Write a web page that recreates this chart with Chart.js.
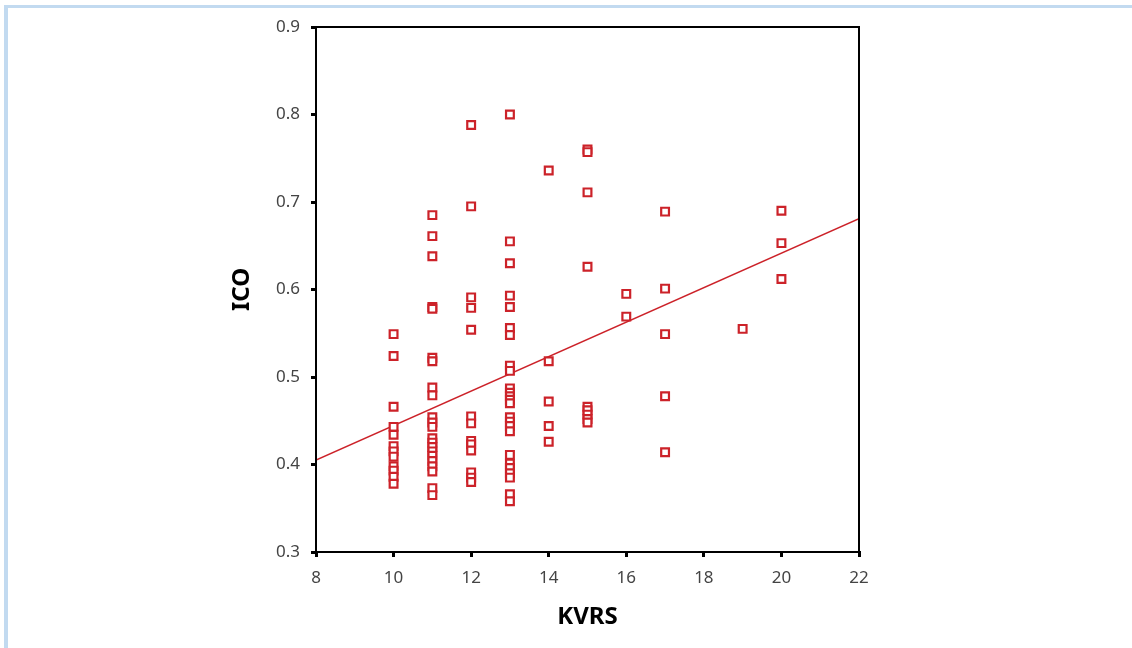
<!DOCTYPE html>
<html>
<head>
<meta charset="utf-8">
<script src="https://cdn.jsdelivr.net/npm/chart.js@4/dist/chart.umd.min.js"></script>
<style>
  html, body { margin: 0; padding: 0; background: #fff; overflow: hidden; }
  #frame { position: absolute; left: 4px; top: 5px; width: 1200px; height: 700px;
           border-left: 4px solid #c2daf0; border-top: 3px solid #c2daf0; }
  #wrap { position: absolute; left: 0; top: 0; width: 1132px; height: 648px; }
</style>
</head>
<body>
<div id="frame"></div>
<div id="wrap"><canvas id="scatter"></canvas></div>
<script>
// ICO vs KVRS scatter with fit line
// ------------------------------
const xTicks = [8, 10, 12, 14, 16, 18, 20, 22];
const yTicks = [0.3, 0.4, 0.5, 0.6, 0.7, 0.8, 0.9];

const ico10 = [0.549, 0.524, 0.466, 0.443, 0.434, 0.421, 0.415, 0.409, 0.398, 0.393, 0.386, 0.378];
const ico11 = [0.685, 0.661, 0.638, 0.580, 0.578, 0.522, 0.518, 0.488, 0.479, 0.454, 0.448, 0.443,
               0.430, 0.425, 0.420, 0.415, 0.410, 0.404, 0.398, 0.392, 0.373, 0.365];
const ico12 = [0.788, 0.695, 0.591, 0.579, 0.554, 0.455, 0.447, 0.427, 0.423, 0.416, 0.391, 0.385, 0.380];
const ico13 = [0.800, 0.655, 0.630, 0.593, 0.580, 0.556, 0.548, 0.513, 0.507, 0.487, 0.482, 0.478,
               0.474, 0.470, 0.454, 0.449, 0.444, 0.438, 0.411, 0.401, 0.396, 0.390, 0.385, 0.366, 0.358];
const ico14 = [0.736, 0.518, 0.472, 0.444, 0.426];
const ico15 = [0.760, 0.757, 0.711, 0.626, 0.466, 0.462, 0.457, 0.452, 0.448];
const ico16 = [0.595, 0.569];
const ico17 = [0.689, 0.601, 0.549, 0.478, 0.414];
const ico19 = [0.555];
const ico20 = [0.690, 0.653, 0.612];

const kvrsGroups = [10, 11, 12, 13, 14, 15, 16, 17, 19, 20];
const icoGroups = [ico10, ico11, ico12, ico13, ico14, ico15, ico16, ico17, ico19, ico20];

// fit line end points
const fitX = [8, 22];
const fitY = [0.405, 0.681];

var points = [];
kvrsGroups.forEach(function (k, i) {
    icoGroups[i].forEach(function (v) { points.push({ x: k, y: v }); });
});
var fitPoints = fitX.map(function (x, i) { return { x: x, y: fitY[i] }; });

const red = '#cc2229';
const tickFont = { family: '"Noto Sans", "Open Sans", sans-serif', size: 17 };
const titleFont = { family: '"Noto Sans", "Open Sans", sans-serif', size: 24, weight: 'bold' };

// frame around the plot area
const boxPlugin = {
    id: 'box',
    afterDraw: function (chart) {
        var a = chart.chartArea, c = chart.ctx;
        c.save();
        c.strokeStyle = '#000';
        c.lineWidth = 2;
        c.strokeRect(a.left, a.top, a.right - a.left, a.bottom - a.top);
        c.restore();
    }
};

var ctx = document.getElementById('scatter');
new Chart(ctx, {
    type: 'scatter',
    data: {
        datasets: [{
            label: 'ICO',
            data: points,
            pointStyle: 'rect',
            pointRadius: 5.5,
            pointHoverRadius: 5.5,
            borderWidth: 2.2,
            borderColor: red,
            backgroundColor: '#fff'
        }, {
            type: 'line',
            label: 'Fit',
            data: fitPoints,
            borderColor: red,
            borderWidth: 1.6,
            pointRadius: 0,
            fill: false
        }]
    },
    options: {
        responsive: true,
        maintainAspectRatio: false,
        animation: false,
        layout: { padding: { top: 27, right: 273, bottom: 12, left: 224 } },
        plugins: { legend: { display: false }, tooltip: { enabled: false } },
        scales: {
            x: {
                type: 'linear',
                min: 8, max: 22,
                afterBuildTicks: function (s) { s.ticks = xTicks.map(function (v) { return { value: v }; }); },
                afterFit: function (s) { s.height = 84; },
                grid: { drawOnChartArea: false, color: '#000', lineWidth: 3, tickLength: 5 },
                border: { color: '#000', width: 2 },
                ticks: { color: '#444', font: tickFont, padding: 11, maxRotation: 0 },
                title: { display: true, text: 'KVRS', color: '#000', font: titleFont, padding: { top: 10 } }
            },
            y: {
                type: 'linear',
                min: 0.3, max: 0.9,
                afterBuildTicks: function (s) { s.ticks = yTicks.map(function (v) { return { value: v }; }); },
                afterFit: function (s) { s.width = 92; },
                grid: { drawOnChartArea: false, color: '#000', lineWidth: 3, tickLength: 5 },
                border: { color: '#000', width: 2 },
                ticks: { color: '#444', font: tickFont, padding: 11,
                         callback: function (v) { return v.toFixed(1); } },
                title: { display: true, text: 'ICO', color: '#000', font: titleFont, padding: { bottom: 0 } }
            }
        }
    },
    plugins: [boxPlugin]
});
</script>
</body>
</html>
